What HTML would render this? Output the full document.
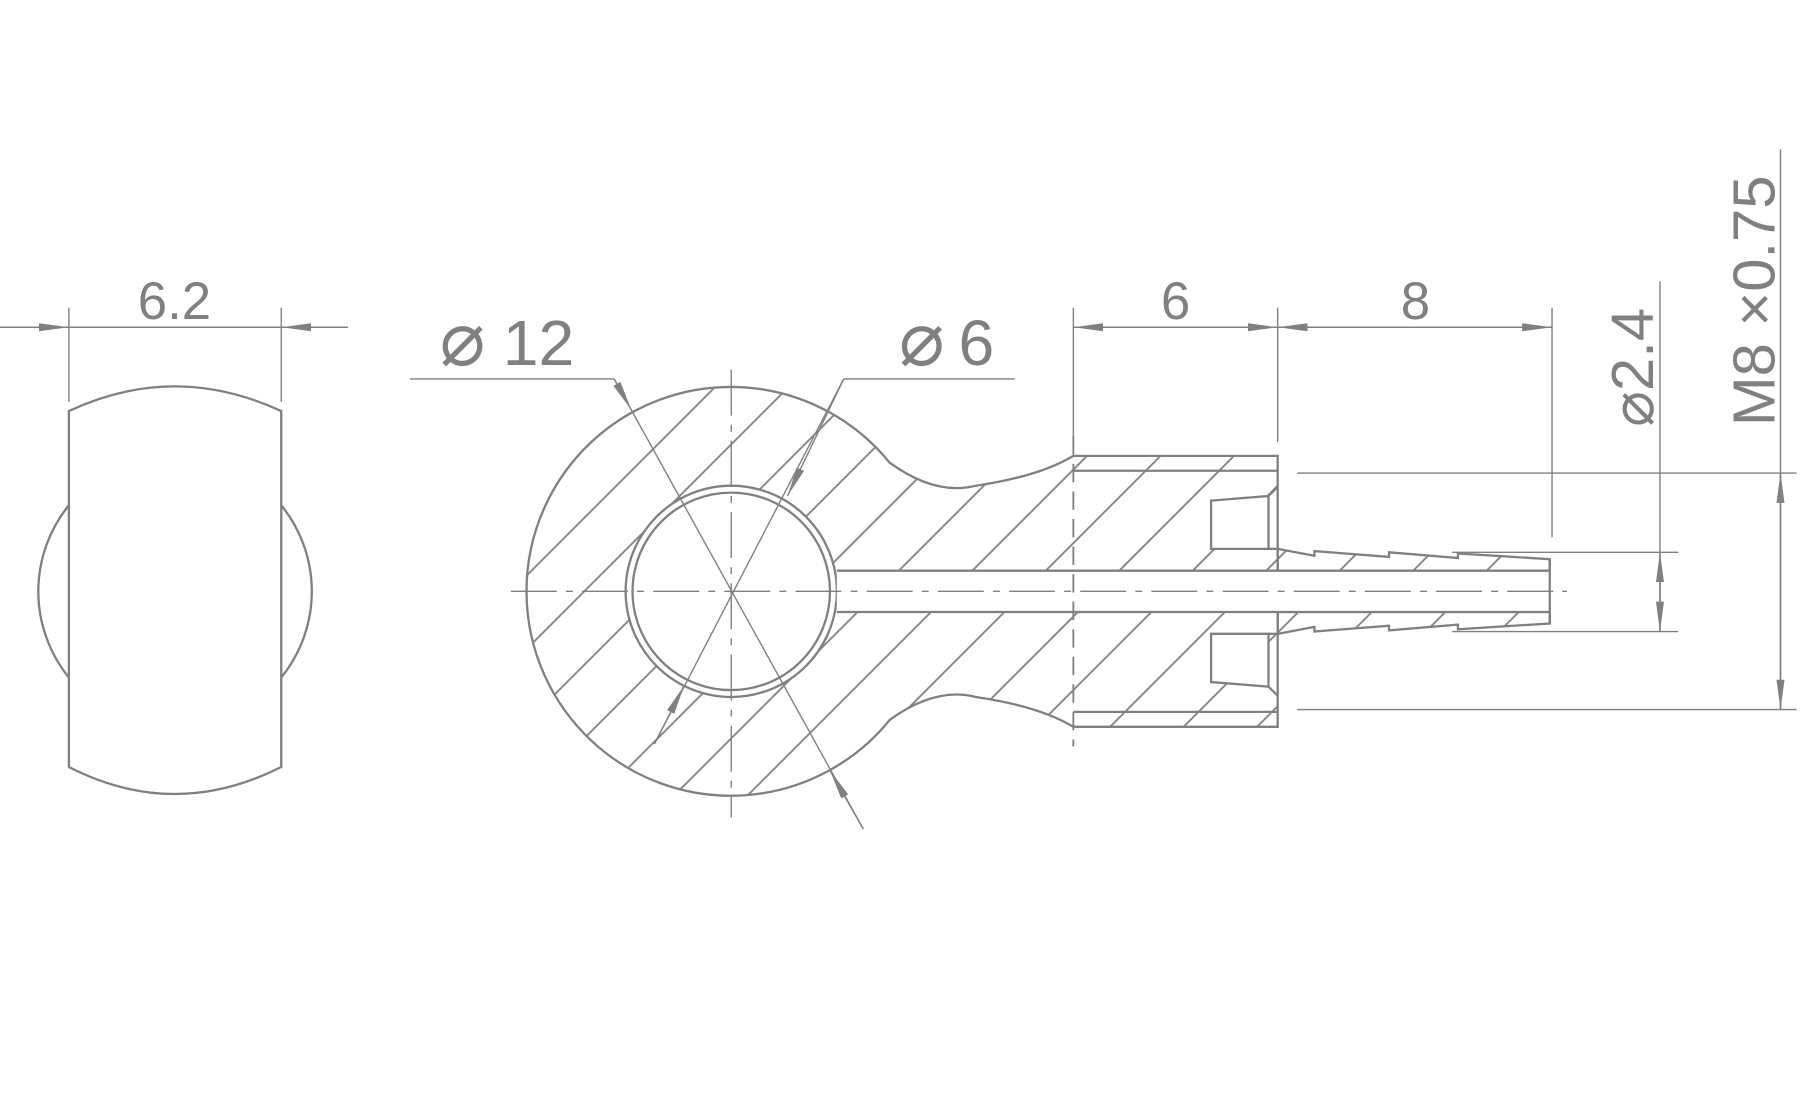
<!DOCTYPE html>
<html><head><meta charset="utf-8"><style>
html,body{margin:0;padding:0;background:#fff;}
svg{display:block}
text{font-family:"Liberation Sans",sans-serif;fill:#808080;}
</style></head><body>
<svg width="1800" height="1100" viewBox="0 0 1568 958" preserveAspectRatio="none" xmlns="http://www.w3.org/2000/svg">
<defs>
<pattern id="h" patternUnits="userSpaceOnUse" width="64" height="64">
<line x1="0" y1="64" x2="64" y2="0" stroke="#808080" stroke-width="1.6"/>
<line x1="-10" y1="10" x2="10" y2="-10" stroke="#808080" stroke-width="1.6"/>
<line x1="54" y1="74" x2="74" y2="54" stroke="#808080" stroke-width="1.6"/>
</pattern>
<marker id="a" viewBox="0 0 26 10" refX="26" refY="5" markerWidth="26" markerHeight="10" markerUnits="userSpaceOnUse" orient="auto"><path d="M0,1.5 L26,5 L0,8.5 Z" fill="#808080"/></marker>
</defs>
<g stroke="#808080" stroke-width="2" fill="none">
<path d="M60,440 A119,119 0 0 0 60,590"/>
<path d="M245,440 A119,119 0 0 1 245,590"/>
<path d="M60,358 Q152,315 245,358 L245,668 Q152,715 60,668 Z" fill="#fff"/>
<line x1="60" y1="268" x2="60" y2="350" stroke-width="1.2"/>
<line x1="245" y1="268" x2="245" y2="350" stroke-width="1.2"/>
<line x1="0" y1="285" x2="303" y2="285" stroke-width="1.4"/>
<line x1="0" y1="285" x2="60" y2="285" stroke-width="1.4" marker-end="url(#a)"/>
<line x1="303" y1="285" x2="245" y2="285" stroke-width="1.4" marker-end="url(#a)"/>

<path d="M775,403 Q815,432 850,423 Q905,415 935,397 L1113,397 L1113,633 L935,633 Q905,615 850,607 Q815,598 775,627 A178,178 0 1 1 775,403 Z" fill="url(#h)"/>
<path d="M1113,478 L1145,484 L1145,480 L1210,485 L1210,481 L1270,486 L1270,482 L1350,487 L1350,497 L1113,497 Z" fill="url(#h)"/>
<path d="M1113,552 L1145,546 L1145,550 L1210,545 L1210,549 L1270,544 L1270,548 L1350,543 L1350,533 L1113,533 Z" fill="url(#h)"/>
<circle cx="637" cy="515" r="92" fill="#fff"/>
<circle cx="637" cy="515" r="86"/>
<rect x="729" y="497" width="621" height="36" fill="#fff" stroke="none"/>
<line x1="729" y1="497" x2="1350" y2="497"/>
<line x1="729" y1="533" x2="1350" y2="533"/>
<path d="M1055,436 L1105,432 L1105,478 L1055,478 Z" fill="#fff"/>
<line x1="1105" y1="432" x2="1113" y2="424"/>
<path d="M1055,594 L1105,598 L1105,552 L1055,552 Z" fill="#fff"/>
<line x1="1105" y1="598" x2="1113" y2="606"/>
<line x1="1105" y1="478" x2="1113" y2="478"/>
<line x1="1105" y1="552" x2="1113" y2="552"/>
<line x1="935" y1="410" x2="1113" y2="410"/>
<line x1="935" y1="620" x2="1113" y2="620"/>
<line x1="1350" y1="487" x2="1350" y2="543"/>

<line x1="445" y1="515" x2="1365" y2="515" stroke-width="1.2" stroke-dasharray="40,8,6,8"/>
<line x1="637" y1="322" x2="637" y2="712" stroke-width="1.2" stroke-dasharray="40,8,6,8"/>
<line x1="935" y1="380" x2="935" y2="650" stroke-width="1.6" stroke-dasharray="16,8"/>

<line x1="357" y1="330" x2="535" y2="330" stroke-width="1.2"/>
<line x1="535" y1="330" x2="752" y2="722" stroke-width="1.2"/>
<line x1="535" y1="330" x2="550" y2="357" stroke-width="1.2" marker-end="url(#a)"/>
<line x1="752" y1="722" x2="723" y2="671" stroke-width="1.2" marker-end="url(#a)"/>
<line x1="735" y1="330" x2="884" y2="330" stroke-width="1.2"/>
<line x1="735" y1="330" x2="570" y2="648" stroke-width="1.2"/>
<line x1="735" y1="330" x2="686" y2="432" stroke-width="1.2" marker-end="url(#a)"/>
<line x1="570" y1="648" x2="596" y2="597" stroke-width="1.2" marker-end="url(#a)"/>

<line x1="935" y1="268" x2="935" y2="385" stroke-width="1.2"/>
<line x1="1113" y1="268" x2="1113" y2="385" stroke-width="1.2"/>
<line x1="1352" y1="268" x2="1352" y2="468" stroke-width="1.2"/>
<line x1="1024" y1="285" x2="935" y2="285" stroke-width="1.4" marker-end="url(#a)"/>
<line x1="1024" y1="285" x2="1113" y2="285" stroke-width="1.4" marker-end="url(#a)"/>
<line x1="1232" y1="285" x2="1113" y2="285" stroke-width="1.4" marker-end="url(#a)"/>
<line x1="1232" y1="285" x2="1352" y2="285" stroke-width="1.4" marker-end="url(#a)"/>

<line x1="1265" y1="481" x2="1462" y2="481" stroke-width="1.2"/>
<line x1="1265" y1="550" x2="1462" y2="550" stroke-width="1.2"/>
<line x1="1446" y1="245" x2="1446" y2="550" stroke-width="1.2"/>
<line x1="1446" y1="515" x2="1446" y2="481" stroke-width="1.4" marker-end="url(#a)"/>
<line x1="1446" y1="515" x2="1446" y2="550" stroke-width="1.4" marker-end="url(#a)"/>
<line x1="1130" y1="412" x2="1565" y2="412" stroke-width="1.2"/>
<line x1="1130" y1="618" x2="1565" y2="618" stroke-width="1.2"/>
<line x1="1551" y1="130" x2="1551" y2="618" stroke-width="1.2"/>
<line x1="1551" y1="515" x2="1551" y2="412" stroke-width="1.4" marker-end="url(#a)"/>
<line x1="1551" y1="515" x2="1551" y2="618" stroke-width="1.4" marker-end="url(#a)"/>
</g>

<text x="152" y="278" font-size="46" text-anchor="middle">6.2</text>
<text x="1024" y="278" font-size="46" text-anchor="middle">6</text>
<text x="1233" y="278" font-size="46" text-anchor="middle">8</text>
<text x="383" y="318" font-size="66">⌀</text>
<text x="438" y="318" font-size="56">12</text>
<text x="783" y="318" font-size="66">⌀</text>
<text x="835" y="318" font-size="56">6</text>
<text transform="translate(1440,320) rotate(-90)" font-size="52" text-anchor="middle">⌀2.4</text>
<text transform="translate(1546,262) rotate(-90)" font-size="52" text-anchor="middle">M8 ×0.75</text>
</svg>
</body></html>
